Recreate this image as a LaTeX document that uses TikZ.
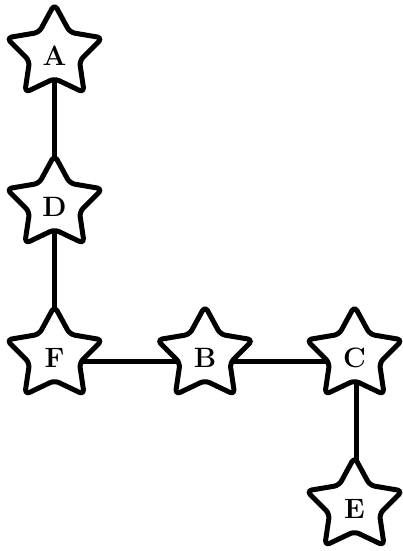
\documentclass[tikz,border=0pt]{standalone}
\usepackage{fontspec}
\pgfdeclarelayer{background}
\pgfsetlayers{background,main}
\newcommand\lblfont{\bfseries\fontsize{28pt}{32pt}\selectfont}
\tikzset{
  starshape/.style={draw=black, fill=white, line width=5pt, rounded corners=5pt, line join=round},
  lbl/.style={inner sep=0pt, font=\lblfont},
  edge/.style={draw=black, line width=5pt}
}
\newcommand\drawmystar[2]{%
  \draw[starshape, shift={(#1,#2)}, xscale=1.03]
    (54:25.5pt) -- (90:49pt) -- (126:25.5pt) -- (162:49pt) -- (198:25.5pt) -- (234:49pt)
    -- (270:25.5pt) -- (306:49pt) -- (342:25.5pt) -- (18:49pt) -- cycle;}
\begin{document}
\begin{tikzpicture}[x=1pt, y=-1pt]
  \useasboundingbox (0,0) rectangle (403,551);
  \drawmystar{54.5}{53}
  \drawmystar{54.5}{204}
  \drawmystar{54.5}{355}
  \drawmystar{205}{355}
  \drawmystar{354.5}{355}
  \drawmystar{354.5}{506}
  \node[lbl] (A) at (54.5,56) {A};
  \node[lbl] (D) at (54.5,207) {D};
  \node[lbl] (F) at (54.5,358) {F};
  \node[lbl] (B) at (205,358) {B};
  \node[lbl] (C) at (354.5,358) {C};
  \node[lbl] (E) at (354.5,509) {E};
  \begin{pgfonlayer}{background}
    \draw[edge] (A.center) -- (D.center) -- (F.center);
    \draw[edge] ([yshift=-3.5pt]F.center) -- ([yshift=-3.5pt]B.center) -- ([yshift=-3.5pt]C.center);
    \draw[edge] ([xshift=2pt]C.center) -- ([xshift=2pt]E.center);
  \end{pgfonlayer}
\end{tikzpicture}
\end{document}
